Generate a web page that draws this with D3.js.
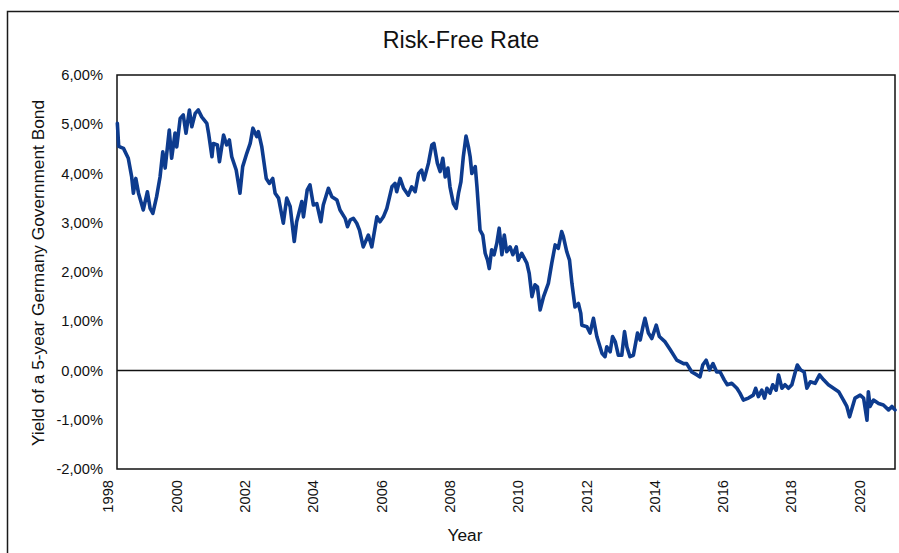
<!DOCTYPE html>
<html><head><meta charset="utf-8">
<script src="https://cdnjs.cloudflare.com/ajax/libs/d3/7.8.5/d3.min.js"></script>
<style>body{margin:0;background:#fff}svg{display:block;font-family:"Liberation Sans",Arial,sans-serif}</style>
</head><body><svg id="c" width="899" height="553"></svg>
<script>
const title = "Risk-Free Rate";
const yLabel = "Yield of a 5-year Germany Government Bond";
const xLabel = "Year";
const xTicks = [1998,2000,2002,2004,2006,2008,2010,2012,2014,2016,2018,2020];
const yTicks = [-2,-1,0,1,2,3,4,5,6];
const xDomain = [1998.27, 2021.05];
const years = [1998.28,1998.32,1998.46,1998.60,1998.70,1998.75,1998.82,1998.90,1999.04,1999.16,1999.24,1999.32,1999.43,1999.53,1999.61,1999.68,1999.80,1999.87,1999.97,2000.02,2000.12,2000.21,2000.29,2000.39,2000.46,2000.56,2000.65,2000.75,2000.90,2000.95,2001.05,2001.09,2001.21,2001.27,2001.39,2001.48,2001.56,2001.63,2001.76,2001.87,2001.95,2002.07,2002.17,2002.25,2002.36,2002.41,2002.51,2002.64,2002.73,2002.83,2002.90,2003.00,2003.14,2003.24,2003.34,2003.46,2003.53,2003.68,2003.73,2003.84,2003.92,2004.02,2004.12,2004.24,2004.31,2004.46,2004.56,2004.71,2004.80,2004.95,2005.02,2005.10,2005.19,2005.29,2005.37,2005.48,2005.63,2005.73,2005.88,2005.97,2006.07,2006.17,2006.32,2006.41,2006.46,2006.56,2006.66,2006.80,2006.90,2007.00,2007.10,2007.19,2007.26,2007.39,2007.49,2007.55,2007.65,2007.73,2007.81,2007.88,2007.96,2008.02,2008.12,2008.20,2008.27,2008.34,2008.41,2008.49,2008.56,2008.61,2008.66,2008.76,2008.81,2008.90,2008.98,2009.05,2009.12,2009.17,2009.24,2009.31,2009.39,2009.46,2009.54,2009.61,2009.68,2009.78,2009.86,2009.96,2010.02,2010.12,2010.27,2010.34,2010.42,2010.51,2010.58,2010.66,2010.76,2010.90,2011.00,2011.10,2011.19,2011.29,2011.34,2011.44,2011.52,2011.59,2011.68,2011.78,2011.85,2011.88,2012.03,2012.12,2012.22,2012.32,2012.47,2012.56,2012.61,2012.71,2012.78,2012.86,2012.95,2013.05,2013.13,2013.20,2013.29,2013.39,2013.51,2013.59,2013.67,2013.73,2013.83,2013.93,2014.06,2014.15,2014.32,2014.47,2014.66,2014.86,2014.95,2015.10,2015.25,2015.34,2015.42,2015.52,2015.62,2015.72,2015.83,2015.93,2016.05,2016.14,2016.27,2016.42,2016.51,2016.61,2016.76,2016.90,2016.97,2017.05,2017.15,2017.23,2017.30,2017.39,2017.47,2017.57,2017.64,2017.74,2017.83,2017.93,2018.03,2018.13,2018.19,2018.29,2018.39,2018.47,2018.57,2018.71,2018.84,2018.96,2019.10,2019.25,2019.40,2019.54,2019.64,2019.72,2019.79,2019.88,2020.03,2020.13,2020.23,2020.27,2020.32,2020.42,2020.57,2020.71,2020.86,2020.96,2021.05];
const yields = [5.02,4.55,4.51,4.31,3.93,3.60,3.90,3.60,3.26,3.63,3.29,3.19,3.53,3.93,4.44,4.11,4.88,4.31,4.82,4.54,5.12,5.19,4.82,5.29,4.95,5.22,5.29,5.15,5.02,4.82,4.34,4.61,4.58,4.24,4.78,4.58,4.68,4.34,4.07,3.60,4.14,4.41,4.61,4.92,4.75,4.85,4.54,3.90,3.80,3.90,3.60,3.50,2.99,3.50,3.33,2.62,3.02,3.43,3.12,3.67,3.77,3.36,3.39,3.02,3.36,3.70,3.53,3.46,3.26,3.09,2.92,3.06,3.09,2.99,2.85,2.51,2.75,2.51,3.12,3.02,3.12,3.29,3.73,3.80,3.63,3.90,3.70,3.56,3.73,3.63,4.00,4.07,3.87,4.21,4.58,4.61,4.21,4.04,4.31,3.93,4.11,3.73,3.39,3.29,3.60,3.83,4.34,4.76,4.54,4.34,4.00,4.14,3.73,2.85,2.75,2.38,2.24,2.07,2.45,2.35,2.58,2.89,2.35,2.75,2.41,2.51,2.35,2.51,2.24,2.38,2.18,1.97,1.50,1.74,1.70,1.23,1.50,1.77,2.18,2.55,2.48,2.82,2.72,2.41,2.24,1.77,1.29,1.36,1.16,0.92,0.89,0.76,1.06,0.69,0.35,0.28,0.48,0.38,0.69,0.58,0.31,0.31,0.79,0.48,0.28,0.31,0.76,0.62,0.89,1.06,0.76,0.65,0.92,0.69,0.58,0.42,0.21,0.14,0.14,-0.03,-0.09,-0.13,0.11,0.21,0.01,0.14,-0.03,-0.03,-0.19,-0.29,-0.26,-0.36,-0.46,-0.60,-0.56,-0.50,-0.36,-0.53,-0.40,-0.56,-0.36,-0.46,-0.29,-0.40,-0.09,-0.36,-0.29,-0.36,-0.29,-0.03,0.11,0.01,-0.03,-0.36,-0.23,-0.26,-0.09,-0.19,-0.29,-0.36,-0.43,-0.60,-0.73,-0.94,-0.77,-0.56,-0.50,-0.56,-1.01,-0.43,-0.73,-0.60,-0.67,-0.70,-0.80,-0.73,-0.80];

const svg = d3.select("#c");
const L = 117, R = 895, T = 75, B = 469;
const x = d3.scaleLinear().domain(xDomain).range([L, R]);
const y = d3.scaleLinear().domain([-2, 6]).range([B, T]);
const fmt = v => (v < 0 ? "-" : "") + Math.abs(v).toFixed(2).replace(".", ",") + "%";
const FF = "Liberation Sans, Arial, sans-serif";

// outer frame
svg.append("path").attr("d", `M7.5,560 V11.5 H910`).attr("fill","none").attr("stroke","#1a1a1a").attr("stroke-width",1.5);

svg.append("text").attr("x", 461).attr("y", 48).attr("text-anchor","middle")
  .attr("font-size", 23.3).attr("fill","#111").text(title);

// y axis labels
const ya = svg.append("g").attr("transform", `translate(${L},0)`)
  .call(d3.axisLeft(y).tickValues(yTicks).tickFormat(fmt).tickSize(0).tickPadding(14));
ya.select(".domain").remove();
ya.selectAll("text").attr("font-size", 14.7).attr("fill","#111").attr("font-family",FF);

// x axis labels
const xa = svg.append("g").attr("transform", `translate(0,${B})`)
  .call(d3.axisBottom(x).tickValues(xTicks).tickFormat(d3.format("d")).tickSize(0));
xa.select(".domain").remove();
xa.selectAll("text").attr("font-size", 14.7).attr("fill","#111")
  .attr("font-family",FF)
  .attr("text-anchor","end").attr("dy","0.35em").attr("y",0)
  .attr("transform","translate(0,11) rotate(-90)").attr("x",0);

// plot frame
svg.append("rect").attr("x", L).attr("y", T).attr("width", R - L).attr("height", B - T)
  .attr("fill","none").attr("stroke","#111").attr("stroke-width",1.5);
// zero line
svg.append("line").attr("x1", L).attr("x2", R).attr("y1", y(0)).attr("y2", y(0))
  .attr("stroke","#111").attr("stroke-width",1.5);

const data = years.map((d, i) => [d, yields[i]]);
svg.append("path").datum(data)
  .attr("d", d3.line().x(d => x(d[0])).y(d => y(d[1])))
  .attr("fill","none").attr("stroke","#0d3b8e").attr("stroke-width",3.6)
  .attr("stroke-linejoin","round").attr("stroke-linecap","round");

svg.append("text").attr("transform", `translate(43.5,${(T + B) / 2 + 1}) rotate(-90)`)
  .attr("text-anchor","middle").attr("font-size",17.3).attr("fill","#111").text(yLabel);
svg.append("text").attr("x", 465).attr("y", 541).attr("text-anchor","middle")
  .attr("font-size",17.3).attr("fill","#111").text(xLabel);
</script></body></html>
